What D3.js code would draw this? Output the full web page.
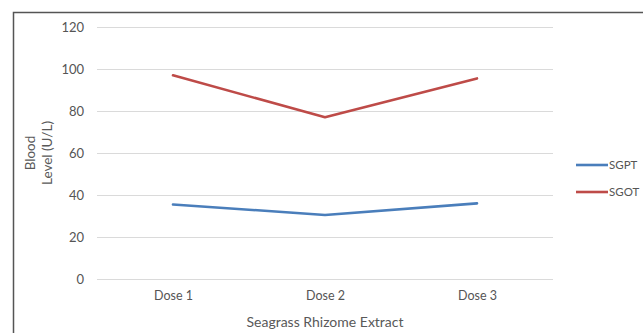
<!DOCTYPE html>
<html><head><meta charset="utf-8">
<script src="https://cdn.jsdelivr.net/npm/d3@7"></script>
<style>body{margin:0;background:#fff}svg{display:block}text{font-family:Lato,"Open Sans",sans-serif}</style>
</head><body>
<script>
const categories = ["Dose 1","Dose 2","Dose 3"];
const sgpt = [35.5, 30.5, 36];
const sgot = [97, 77, 95.5];
const yTicks = [0,20,40,60,80,100,120];
const seriesNames = ["SGPT","SGOT"];
const colors = ["#4a7ebb","#be4b48"];

const W=643,H=333;
const svg=d3.select("body").append("svg").attr("width",W).attr("height",H);
// frame
svg.append("path").attr("d",`M13.5,${H} V12.5 H${W}`).attr("fill","none").attr("stroke","#555").attr("stroke-width",1.5);

const x=d3.scalePoint().domain(categories).range([97,553]).padding(0.5);
const y=d3.scaleLinear().domain([0,120]).range([279,27]);

const g=svg.append("g");
g.selectAll("line.grid").data(yTicks).join("line").attr("class","grid")
 .attr("x1",97).attr("x2",553).attr("y1",d=>Math.round(y(d))+0.5).attr("y2",d=>Math.round(y(d))+0.5)
 .attr("stroke","#dadada").attr("stroke-width",1);

const yAxis=d3.axisLeft(y).tickValues(yTicks).tickSize(0).tickPadding(0);
const ya=svg.append("g").attr("transform","translate(84,0)").call(yAxis);
ya.select(".domain").remove();
ya.selectAll("text").attr("font-size",13).attr("fill","#555");

const xAxis=d3.axisBottom(x).tickSize(0).tickPadding(0);
const xa=svg.append("g").attr("transform","translate(0,291)").call(xAxis);
xa.select(".domain").remove();
xa.selectAll("text").attr("font-size",12.5).attr("fill","#555");

const data=[sgpt,sgot];
const line=d3.line().x((d,i)=>x(categories[i])).y(d=>y(d));
data.forEach((s,k)=>{
  svg.append("path").datum(s).attr("d",line).attr("fill","none").attr("stroke",colors[k]).attr("stroke-width",2.6).attr("stroke-linecap","round").attr("stroke-linejoin","round");
});

// legend
const leg=svg.append("g");
seriesNames.forEach((n,k)=>{
  const yy=165+k*27;
  leg.append("line").attr("x1",576).attr("x2",608).attr("y1",yy).attr("y2",yy).attr("stroke",colors[k]).attr("stroke-width",2.6);
  leg.append("text").attr("x",609).attr("y",yy).attr("dy","0.35em").attr("font-size",11.5).attr("fill","#555").text(n);
});

// axis titles
svg.append("text").attr("x",325).attr("y",322).attr("dy","0.35em").attr("text-anchor","middle").attr("font-size",14).attr("fill","#595959").text("Seagrass Rhizome Extract");
const yt=svg.append("text").attr("transform","translate(38,153) rotate(-90)").attr("text-anchor","middle").attr("font-size",13.5).attr("fill","#595959");
yt.append("tspan").attr("x",0).attr("y",-8).attr("dy","0.35em").text("Blood");
yt.append("tspan").attr("x",0).attr("y",9).attr("dy","0.35em").text("Level (U/L)");
</script>
</body></html>
